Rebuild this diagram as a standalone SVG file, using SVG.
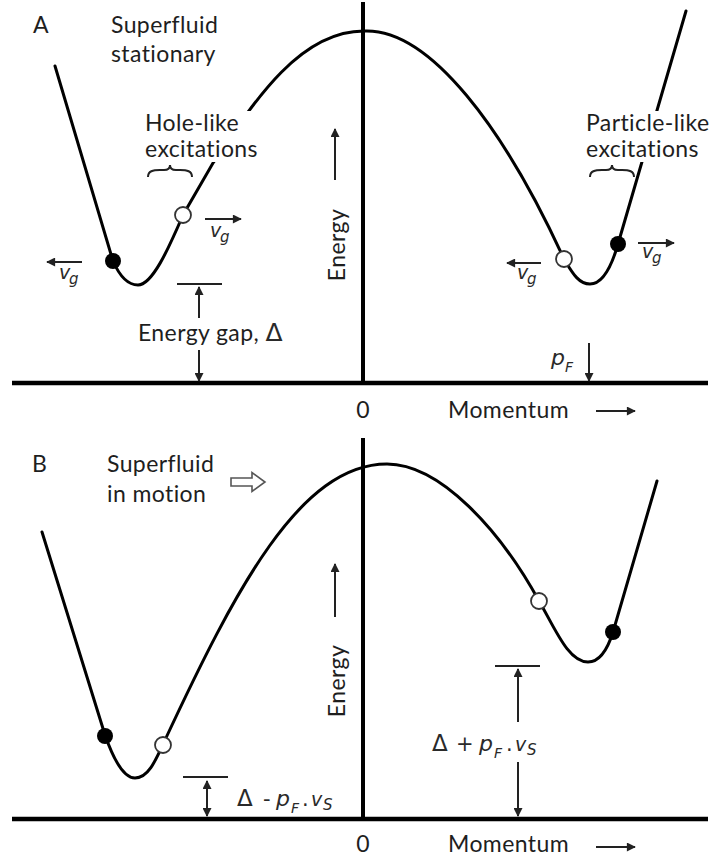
<svg xmlns="http://www.w3.org/2000/svg" width="715" height="863" viewBox="0 0 715 863">
<defs>
<style>
.t{font-family:Lato,"Open Sans","Liberation Sans",sans-serif;font-size:23px;letter-spacing:0.4px;fill:#1e1e1e}
.m{font-family:"DejaVu Sans","Liberation Sans",sans-serif;fill:#2a2a2a;letter-spacing:0}
.it{font-family:"DejaVu Sans","Liberation Sans",sans-serif;font-style:italic;fill:#2a2a2a}
.axis{stroke:#000;stroke-width:4.5;fill:none}
.vax{stroke:#000;stroke-width:4;fill:none}
.curve{stroke:#000;stroke-width:3;fill:none;stroke-linecap:round}
.thin{stroke:#222;stroke-width:2;fill:none}
.ar{stroke:#222;stroke-width:2;fill:none;marker-end:url(#ah)}
.ar2{stroke:#222;stroke-width:2;fill:none;marker-end:url(#ah);marker-start:url(#ahs)}
.dot{fill:#000}
.hole{fill:#fff;stroke:#333;stroke-width:1.8}
.brace{stroke:#222;stroke-width:2;fill:none}
</style>
<marker id="ah" viewBox="0 0 10 10" refX="9" refY="5" markerWidth="11" markerHeight="9" markerUnits="userSpaceOnUse" orient="auto"><path d="M0,0 L10,5 L0,10 z" fill="#222"/></marker>
<marker id="ahs" viewBox="0 0 10 10" refX="1" refY="5" markerWidth="11" markerHeight="9" markerUnits="userSpaceOnUse" orient="auto"><path d="M10,0 L0,5 L10,10 z" fill="#222"/></marker>
</defs>
<rect width="715" height="863" fill="#fff"/>

<g id="panelA">
  <g id="axesA">
    <line class="vax" x1="363" y1="2" x2="363" y2="384"/>
    <line class="axis" x1="12" y1="383" x2="708" y2="383"/>
  </g>
  <g id="curveA">
    <path class="curve" d="M55,66 L113,261 C120,277 128,285 138,285 C152,285 168,250 183,215 L213,163 C255,100 300,31 364,31 C430,28 505,130 564,259 C572,272 578,284 590,284 C603,284 612,265 618,244 L686,11"/>
  </g>
  <g id="labelsA">
    <text class="t" x="33" y="33">A</text>
    <text class="t" x="111" y="33">Superfluid</text>
    <text class="t" x="111" y="62">stationary</text>
    <rect x="140" y="111" width="130" height="51" fill="#fff"/>
    <text class="t" x="145" y="131">Hole-like</text>
    <text class="t" x="145" y="157">excitations</text>
    <path class="brace" d="M148,177 C148,171 153,170 160,170 L164,170 C168,170 170,168 170,165 C170,168 172,170 176,170 L180,170 C187,170 192,171 192,177"/>
    <rect x="584" y="111" width="131" height="51" fill="#fff"/>
    <text class="t" x="586" y="131">Particle-like</text>
    <text class="t" x="586" y="157">excitations</text>
    <path class="brace" d="M590,177 C590,171 595,170 602,170 L606,170 C610,170 612,168 612,165 C612,168 614,170 618,170 L622,170 C629,170 634,171 634,177"/>
  </g>
  <g id="statesA">
    <circle class="dot" cx="113" cy="261" r="8"/>
    <circle class="hole" cx="183" cy="215" r="8"/>
    <circle class="hole" cx="564" cy="259" r="8"/>
    <circle class="dot" cx="618" cy="244" r="8"/>
  </g>
  <g id="velocitiesA">
    <line class="ar" x1="82" y1="262" x2="47" y2="262"/>
    <text class="it" x="59" y="279" font-size="19">v</text><text class="it" x="69" y="284" font-size="15">g</text>
    <line class="ar" x1="205" y1="219" x2="241" y2="219"/>
    <text class="it" x="210" y="237" font-size="19">v</text><text class="it" x="220" y="242" font-size="15">g</text>
    <line class="ar" x1="541" y1="263" x2="507" y2="263"/>
    <text class="it" x="517" y="279" font-size="19">v</text><text class="it" x="527" y="284" font-size="15">g</text>
    <line class="ar" x1="638" y1="243" x2="674" y2="243"/>
    <text class="it" x="642" y="258" font-size="19">v</text><text class="it" x="652" y="263" font-size="15">g</text>
  </g>
  <g id="gapA">
    <line class="thin" x1="177" y1="284" x2="222" y2="284"/>
    <line class="ar" x1="199" y1="318" x2="199" y2="287"/>
    <text class="t" x="138" y="341">Energy gap, <tspan class="m" font-size="25">Δ</tspan></text>
    <line class="ar" x1="199" y1="350" x2="199" y2="381"/>
  </g>
  <g id="pF">
    <text class="it" x="551" y="365" font-size="22">p</text><text class="it" x="565" y="372" font-size="14">F</text>
    <line class="ar" x1="589" y1="343" x2="589" y2="381"/>
  </g>
  <g id="energyA">
    <text class="t" transform="translate(345,245) rotate(-90)" text-anchor="middle">Energy</text>
    <line class="ar" x1="335" y1="180" x2="335" y2="129"/>
  </g>
  <g id="momentumA">
    <text class="t" x="363" y="418" text-anchor="middle">0</text>
    <text class="t" x="448" y="418">Momentum</text>
    <line class="ar" x1="596" y1="411" x2="635" y2="411"/>
  </g>
</g>

<g id="panelB">
  <g id="axesB">
    <line class="vax" x1="363" y1="438" x2="363" y2="820"/>
    <line class="axis" x1="12" y1="819" x2="708" y2="819"/>
  </g>
  <g id="curveB">
    <path class="curve" d="M42,532 L105,735 C112,755 122,778 135,778 C148,778 155,762 165,740 C235,590 300,464 387,464 C440,464 500,530 539,601 C555,628 568,662 588,662 C600,662 608,648 613,632 L657,481"/>
  </g>
  <g id="labelsB">
    <text class="t" x="32" y="472">B</text>
    <text class="t" x="107" y="472">Superfluid</text>
    <text class="t" x="107" y="502">in motion</text>
    <path d="M231,478 L252,478 L252,472.5 L265,482 L252,491.5 L252,486 L231,486 Z" fill="#fff" stroke="#555" stroke-width="1.6" stroke-linejoin="miter"/>
  </g>
  <g id="statesB">
    <circle class="dot" cx="105" cy="736" r="8"/>
    <circle class="hole" cx="163" cy="745" r="8"/>
    <circle class="hole" cx="539" cy="601" r="8"/>
    <circle class="dot" cx="613" cy="632" r="8"/>
  </g>
  <g id="gapBleft">
    <line class="thin" x1="183" y1="777" x2="228" y2="777"/>
    <line class="ar2" x1="207" y1="781" x2="207" y2="816"/>
    <text class="m" x="237" y="806" font-size="23">Δ</text>
    <text class="m" x="263" y="806" font-size="21">-</text>
    <text class="it" x="276" y="806" font-size="22">p</text><text class="it" x="291" y="813" font-size="14">F</text>
    <text class="m" x="302" y="806" font-size="21">.</text>
    <text class="it" x="311" y="806" font-size="19">v</text><text class="it" x="323" y="810" font-size="15">S</text>
  </g>
  <g id="gapBright">
    <line class="thin" x1="495" y1="666" x2="540" y2="666"/>
    <line class="ar" x1="518" y1="722" x2="518" y2="669"/>
    <text class="m" x="432" y="751" font-size="23">Δ</text>
    <text class="m" x="456" y="751" font-size="21">+</text>
    <text class="it" x="479" y="751" font-size="22">p</text><text class="it" x="494" y="758" font-size="14">F</text>
    <text class="m" x="506" y="751" font-size="21">.</text>
    <text class="it" x="515" y="751" font-size="19">v</text><text class="it" x="527" y="755" font-size="15">S</text>
    <line class="ar" x1="518" y1="762" x2="518" y2="816"/>
  </g>
  <g id="energyB">
    <text class="t" transform="translate(345,681) rotate(-90)" text-anchor="middle">Energy</text>
    <line class="ar" x1="335" y1="617" x2="335" y2="564"/>
  </g>
  <g id="momentumB">
    <text class="t" x="363" y="852" text-anchor="middle">0</text>
    <text class="t" x="448" y="852">Momentum</text>
    <line class="ar" x1="596" y1="847" x2="635" y2="847"/>
  </g>
</g>
</svg>
